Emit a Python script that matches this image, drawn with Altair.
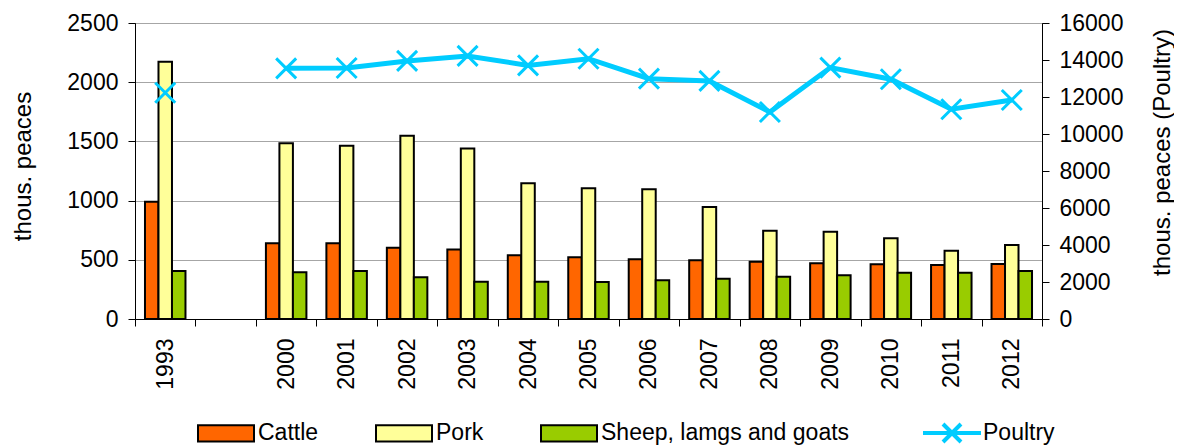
import altair as alt
import pandas as pd

# ---- data ----
years = ["1993", "2000", "2001", "2002", "2003", "2004", "2005", "2006",
         "2007", "2008", "2009", "2010", "2011", "2012"]
x_domain = ["1993", " ", "2000", "2001", "2002", "2003", "2004", "2005",
            "2006", "2007", "2008", "2009", "2010", "2011", "2012"]
cattle = [990, 639, 639, 602, 588, 538, 521, 504, 496, 484, 470, 462, 456, 464]
pork = [2173, 1484, 1464, 1548, 1439, 1146, 1104, 1095, 946, 746, 737, 681, 577, 625]
sheep = [405, 394, 405, 352, 315, 315, 312, 327, 341, 357, 369, 391, 391, 405]
poultry = [12230, 13550, 13570, 13950, 14220, 13710, 14070, 12990, 12870,
           11190, 13590, 12960, 11340, 11840]

bar_series = ["Cattle", "Pork", "Sheep, lamgs and goats"]
bar_colors = ["#FF6600", "#FFFF99", "#99CC00"]
left_ticks = [0, 500, 1000, 1500, 2000, 2500]
right_ticks = [0, 2000, 4000, 6000, 8000, 10000, 12000, 14000, 16000]

# ---- tables ----
rows = []
for name, vals in zip(bar_series, [cattle, pork, sheep]):
    for yr, v in zip(years, vals):
        rows.append({"year": yr, "series": name, "value": v})
bars_df = pd.DataFrame(rows)

pts_df = pd.DataFrame({"year": years, "poultry": poultry, "series": "Poultry"})
line_df = pts_df[pts_df["year"] != "1993"]

FONT = "Liberation Sans"
rect_path = "M-1,-0.29L1,-0.29L1,0.29L-1,0.29Z"
line_x_path = "M-1,0L1,0M-0.31,-0.31L0.31,0.31M-0.31,0.31L0.31,-0.31"
x_marker = "M-1,-1L1,1M-1,1L1,-1"

x_enc = alt.X(
    "year:N",
    scale=alt.Scale(domain=x_domain, paddingInner=0, paddingOuter=0),
    axis=alt.Axis(title=None, labelAngle=270, labelAlign="right",
                  labelBaseline="middle", labelPadding=12, tickBand="extent",
                  tickSize=7, grid=False, labelFontSize=23),
)

bars = alt.Chart(bars_df).mark_bar(stroke="black", strokeWidth=2).encode(
    x=x_enc,
    xOffset=alt.XOffset("series:N", sort=bar_series,
                        scale=alt.Scale(domain=bar_series, paddingInner=0, paddingOuter=0.74)),
    y=alt.Y("value:Q", scale=alt.Scale(domain=[0, 2500], nice=False),
            axis=alt.Axis(values=left_ticks, format="d", title="thous. peaces", orient="left",
                          grid=True, gridColor="#A6A6A6", gridWidth=1,
                          tickSize=7, labelPadding=10,
                          titleAngle=270, titleX=-112, titleY=143,
                          titleAlign="center", titleBaseline="middle")),
    fill=alt.Fill("series:N", sort=bar_series,
                  scale=alt.Scale(domain=bar_series, range=bar_colors),
                  legend=alt.Legend(title=None, orient="none", legendX=62, legendY=381,
                                    direction="horizontal", columns=3,
                                    symbolType=rect_path, symbolSize=3136,
                                    symbolStrokeColor="black", symbolStrokeWidth=2,
                                    labelFontSize=23, labelFont=FONT, labelColor="black",
                                    labelOffset=3, columnPadding=53, labelLimit=0)),
)

right_axis = alt.Axis(values=right_ticks, format="d", title="thous. peaces (Poultry)",
                      orient="right", grid=False, tickSize=7, labelPadding=10,
                      titleAngle=270, titleX=120, titleY=129,
                      titleAlign="center", titleBaseline="middle")

line = alt.Chart(line_df).mark_line(strokeWidth=5).encode(
    x=x_enc,
    y=alt.Y("poultry:Q", scale=alt.Scale(domain=[0, 16000], nice=False), axis=right_axis),
    stroke=alt.Stroke("series:N", scale=alt.Scale(domain=["Poultry"], range=["#00CCFF"]),
                      legend=alt.Legend(title=None, orient="none", legendX=786, legendY=379,
                                        symbolType=line_x_path, symbolSize=3364,
                                        symbolStrokeWidth=4, labelLimit=0,
                                        labelFontSize=23, labelFont=FONT, labelColor="black",
                                        labelOffset=0)),
)

points = alt.Chart(pts_df).mark_point(shape=x_marker, size=400, strokeWidth=3,
                                      filled=False, opacity=1, color="#00CCFF").encode(
    x=x_enc,
    y=alt.Y("poultry:Q", scale=alt.Scale(domain=[0, 16000], nice=False), axis=right_axis),
)

chart = alt.layer(bars, alt.layer(line, points)).resolve_scale(
    y="independent", fill="independent", stroke="independent"
).properties(
    width=907, height=296,
    autosize=alt.AutoSizeParams(type="none"),
    padding={"left": 127, "top": 15, "right": 132, "bottom": 126},
).configure_view(
    stroke="black", strokeWidth=1
).configure_axis(
    labelFont=FONT, titleFont=FONT, labelFontSize=23, titleFontSize=24,
    titleFontWeight="normal", labelColor="black", titleColor="black",
    tickColor="black", domainColor="black", domainWidth=1, tickWidth=1,
)

chart.save("out.html", embed_options={"renderer": "svg", "actions": False})
